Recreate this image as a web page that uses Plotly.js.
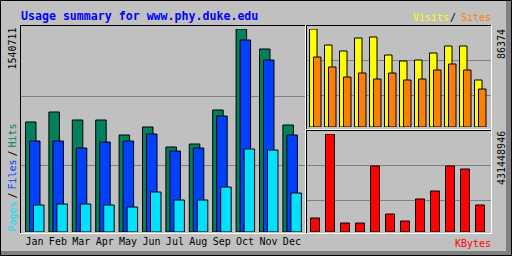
<!DOCTYPE html>
<html><head><meta charset="utf-8">
<script src="https://cdn.plot.ly/plotly-3.0.1.min.js"></script>
<style>html,body{margin:0;padding:0;background:#c0c0c0;overflow:hidden}#chart{width:512px;height:256px}</style>
</head><body><div id="chart"></div>
<script>
// ---- data ----
const siteName = "www.phy.duke.edu";
const months = ["Jan","Feb","Mar","Apr","May","Jun","Jul","Aug","Sep","Oct","Nov","Dec"];
const hits   = [834900, 910700, 850000, 850000, 736200, 796900, 645100, 667900, 926000, 1540711, 1388900, 812100];
const files  = [690700, 690700, 637500, 683100, 690700, 743800, 614800, 637500, 880400, 1457300, 1305400, 736200];
const pages  = [204900, 212500, 212500, 204900, 189700, 303600, 242900, 242900, 341500, 629900, 622400, 296000];
const visits = [86374, 72270, 66980, 78440, 79320, 63460, 58170, 59050, 65220, 71390, 71390, 41420];
const sites  = [61700, 52880, 44070, 47590, 42310, 47590, 41420, 42310, 50240, 55530, 50240, 33490];
const kbytes = [61640000, 431448946, 39620000, 39620000, 290570000, 79250000, 48430000, 145290000, 180500000, 290570000, 277360000, 118870000];

// ---- helpers ----
const W = 512, H = 256;
const px = x => x / W;
const py = y => 1 - y / H;
const idx = months.map((m, i) => i);
const maxHits = Math.max(...hits), maxVisits = Math.max(...visits), maxK = Math.max(...kbytes);
const MONO = "DejaVu Sans Mono, Liberation Mono, monospace";

const C = {hits:"#00805c", files:"#0040ff", pages:"#00e0ff", visits:"#ffff00", sites:"#ff8000", kbytes:"#ff0000", grid:"#808080", bg:"#c0c0c0"};

const mainStep = 23.4, sideStep = 15;
function bar(y, color, xa, ya, offsetPx, widthPx, step) {
  return {type:"bar", x: idx, y: y, xaxis: xa, yaxis: ya,
    offset: offsetPx / step, width: widthPx / step,
    marker: {color: color, line: {color: "#000", width: 1}},
    hoverinfo: "skip"};
}
const traces = [
  bar(hits,   C.hits,   "x",  "y",  0.5, 10.5, mainStep),
  bar(files,  C.files,  "x",  "y",  4.5, 10.5, mainStep),
  bar(pages,  C.pages,  "x",  "y",  8.5, 10.5, mainStep),
  bar(visits, C.visits, "x2", "y2", 0.5, 7.5, sideStep),
  bar(sites,  C.sites,  "x2", "y2", 4.5, 7.5, sideStep),
  bar(kbytes, C.kbytes, "x3", "y3", 0.5, 9, sideStep)
];

function hline(y, x0, x1, color, layer) {
  return {type:"line", xref:"paper", yref:"paper", x0:px(x0), x1:px(x1+1), y0:py(y+0.5), y1:py(y+0.5),
    line:{color:color, width:1}, layer: layer || "above"};
}
function vline(x, y0, y1, color, layer) {
  return {type:"line", xref:"paper", yref:"paper", x0:px(x+0.5), x1:px(x+0.5), y0:py(y0), y1:py(y1+1),
    line:{color:color, width:1}, layer: layer || "above"};
}
function rect(x0, y0, x1, y1, color) {
  return {type:"rect", xref:"paper", yref:"paper", x0:px(x0), x1:px(x1), y0:py(y0), y1:py(y1),
    fillcolor:color, line:{width:0}, layer:"above"};
}

const shapes = [
  // gridlines
  hline(96, 21, 304, C.grid, "below"), hline(165, 21, 304, C.grid, "below"),
  hline(60, 307, 490, C.grid, "below"), hline(95, 307, 490, C.grid, "below"),
  hline(165, 307, 490, C.grid, "below"), hline(200, 307, 490, C.grid, "below"),
  // main panel
  hline(25, 20, 304, "#000"), vline(20, 25, 233, "#000"),
  hline(233, 20, 305, "#fff"), vline(305, 25, 233, "#fff"),
  // top right panel
  hline(25, 306, 490, "#000"), vline(306, 25, 129, "#000"),
  hline(129, 306, 491, "#fff"), vline(491, 25, 129, "#fff"),
  // bottom right panel
  hline(130, 306, 490, "#000"), vline(306, 130, 233, "#000"),
  hline(233, 306, 491, "#fff"), vline(491, 130, 233, "#fff"),
  // outer frame bevel + outline
  rect(506, 1, 511, 255, "#808080"),
  rect(1, 251, 511, 255, "#808080"),
  {type:"rect", xref:"paper", yref:"paper", x0:px(0.5), x1:px(511.5), y0:py(0.5), y1:py(255.5),
    line:{color:"#000", width:1}, fillcolor:"rgba(0,0,0,0)", layer:"above"}
];

function txt(text, x, y, color, opts) {
  return Object.assign({xref:"paper", yref:"paper", x:px(x), y:py(y), text:text, showarrow:false,
    xanchor:"left", yanchor:"middle", font:{family:MONO, size:10, color:color}, borderpad:0}, opts || {});
}
const annotations = [
  txt("Usage summary for " + siteName, 20, 15.5, "#0000ff", {font:{family:MONO, size:11.6, color:"#0000ff", weight:"bold"}}),
  txt("Visits", 412, 17.5, C.visits),
  txt("/", 453, 17.5, "#000", {xanchor:"center"}),
  txt("Sites", 460, 17.5, C.sites),
  txt("KBytes", 454, 243, C.kbytes),
  txt(String(maxHits), 11.5, 49, "#000", {xanchor:"center", textangle:-90}),
  txt(String(maxVisits), 501, 44, "#000", {xanchor:"center", textangle:-90}),
  txt(String(maxK), 501, 158, "#000", {xanchor:"center", textangle:-90}),
  txt("Pages", 11.5, 217, C.pages, {xanchor:"center", textangle:-90}),
  txt("/", 11.5, 196, "#000", {xanchor:"center", textangle:-90}),
  txt("Files", 11.5, 175, C.files, {xanchor:"center", textangle:-90}),
  txt("/", 11.5, 154, "#000", {xanchor:"center", textangle:-90}),
  txt("Hits", 11.5, 136, C.hits, {xanchor:"center", textangle:-90})
];

const hiddenAxis = {showgrid:false, zeroline:false, showline:false, showticklabels:false, ticks:"", fixedrange:true};
const layout = {
  width: W, height: H, margin:{l:0, r:0, t:0, b:0, pad:0},
  paper_bgcolor: C.bg, plot_bgcolor: "rgba(0,0,0,0)",
  showlegend:false, barmode:"overlay",
  xaxis: Object.assign({}, hiddenAxis, {domain:[px(20), px(305)], range:[-5/mainStep, 280/mainStep], anchor:"y",
    showticklabels:true, tickmode:"array", tickvals: idx.map(i => i + 9.5/mainStep), ticktext: months,
    tickfont:{family:MONO, size:10, color:"#000"}, ticklabelstandoff: 2}),
  yaxis: Object.assign({}, hiddenAxis, {domain:[py(232), py(29)], range:[0, maxHits], anchor:"x"}),
  xaxis2: Object.assign({}, hiddenAxis, {domain:[px(306), px(491)], range:[-3/sideStep, 182/sideStep], anchor:"y2"}),
  yaxis2: Object.assign({}, hiddenAxis, {domain:[py(127), py(29)], range:[0, maxVisits], anchor:"x2"}),
  xaxis3: Object.assign({}, hiddenAxis, {domain:[px(306), px(491)], range:[-4/sideStep, 181/sideStep], anchor:"y3"}),
  yaxis3: Object.assign({}, hiddenAxis, {domain:[py(232), py(134)], range:[0, maxK], anchor:"x3"}),
  shapes: shapes, annotations: annotations
};
Plotly.newPlot("chart", traces, layout, {staticPlot:true, displayModeBar:false});
</script>
</body></html>
